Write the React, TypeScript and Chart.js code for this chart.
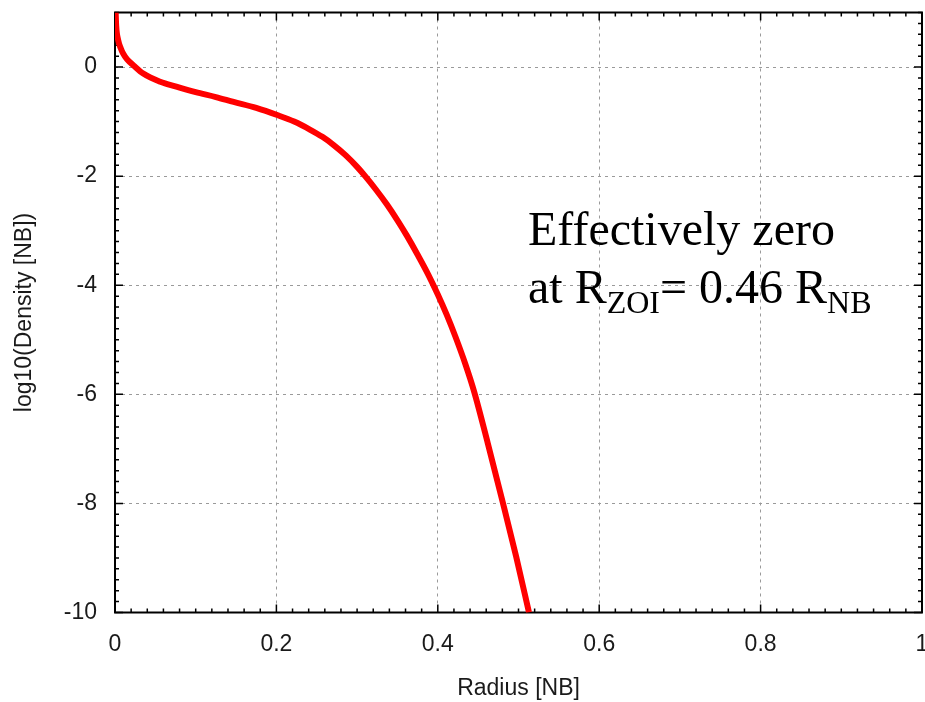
import React, { useEffect, useRef } from "react";
import { Chart, registerables } from "chart.js";

Chart.register(...registerables);

// Radius [NB]
const radius: number[] = [
  0.0008, 0.0015, 0.004, 0.007, 0.010, 0.015, 0.023, 0.035, 0.056, 0.076,
  0.1, 0.125, 0.147, 0.175, 0.201, 0.222, 0.242, 0.257, 0.271, 0.286,
  0.3, 0.31, 0.323, 0.337, 0.35, 0.362, 0.375, 0.388, 0.4, 0.411,
  0.422, 0.434, 0.445, 0.462, 0.48, 0.497, 0.513,
];
// log10(Density [NB])
const logDensity: number[] = [
  1.0, 0.75, 0.49, 0.35, 0.25, 0.14, 0.03, -0.12, -0.27, -0.36,
  -0.46, -0.55, -0.64, -0.75, -0.88, -1.0, -1.15, -1.28, -1.43, -1.62,
  -1.83, -2.0, -2.24, -2.52, -2.81, -3.1, -3.44, -3.8, -4.17, -4.54,
  -4.95, -5.44, -5.95, -6.9, -7.95, -8.97, -10.0,
];

const xTicks: number[] = [0, 0.2, 0.4, 0.6, 0.8, 1];
const yTicks: number[] = [-10, -8, -6, -4, -2, 0];
const xMinorStep = 0.02;
const yMinorStep = 0.2;

const xTitle = "Radius [NB]";
const yTitle = "log10(Density [NB])";
const noteLine1 = "Effectively zero";
const noteLine2: { text: string; sub: boolean }[] = [
  { text: "at R", sub: false },
  { text: "ZOI", sub: true },
  { text: "= 0.46 R", sub: false },
  { text: "NB", sub: true },
];

const SANS = "'Liberation Sans', Arial, sans-serif";
const SERIF = "'Liberation Serif', 'Times New Roman', serif";

const framePlugin = {
  id: "frame",
  beforeDatasetsDraw(chart: any) {
    const { ctx, chartArea: a, scales } = chart;
    const xs = scales.x;
    const ys = scales.y;
    ctx.save();
    ctx.strokeStyle = "#000";
    ctx.lineWidth = 1.5;
    const nX = Math.round((xs.max - xs.min) / xMinorStep);
    for (let i = 0; i <= nX; i++) {
      const v = xs.min + i * xMinorStep;
      const major = xTicks.some((t) => Math.abs(t - v) < 1e-9);
      const len = major ? 8 : 4;
      const px = xs.getPixelForValue(v);
      ctx.beginPath();
      ctx.moveTo(px, a.bottom);
      ctx.lineTo(px, a.bottom - len);
      ctx.moveTo(px, a.top);
      ctx.lineTo(px, a.top + len);
      ctx.stroke();
    }
    const nY = Math.round((ys.max - ys.min) / yMinorStep);
    for (let i = 0; i <= nY; i++) {
      const v = ys.min + i * yMinorStep;
      const major = yTicks.some((t) => Math.abs(t - v) < 1e-9);
      const len = major ? 8 : 4;
      const py = ys.getPixelForValue(v);
      ctx.beginPath();
      ctx.moveTo(a.left, py);
      ctx.lineTo(a.left + len, py);
      ctx.moveTo(a.right, py);
      ctx.lineTo(a.right - len, py);
      ctx.stroke();
    }
    ctx.lineWidth = 2;
    ctx.strokeRect(a.left, a.top, a.right - a.left, a.bottom - a.top);
    ctx.restore();
  },
  afterDraw(chart: any) {
    const { ctx, chartArea: a } = chart;
    ctx.save();
    ctx.fillStyle = "#000";
    ctx.textBaseline = "alphabetic";
    ctx.textAlign = "left";
    const x0 = a.left + 413;
    const base1 = a.top + 232.5;
    const base2 = a.top + 290.5;
    ctx.font = `48px ${SERIF}`;
    ctx.fillText(noteLine1, x0, base1);
    let x = x0;
    for (const seg of noteLine2) {
      if (seg.sub) {
        ctx.font = `32px ${SERIF}`;
        ctx.fillText(seg.text, x, base2 + 10);
      } else {
        ctx.font = `48px ${SERIF}`;
        ctx.fillText(seg.text, x, base2);
      }
      x += ctx.measureText(seg.text).width;
    }
    ctx.restore();
  },
};

const zeroPad = (s: any) => {
  s.paddingTop = 0;
  s.paddingBottom = 0;
  s.paddingLeft = 0;
  s.paddingRight = 0;
};

export default function App() {
  const ref = useRef<HTMLCanvasElement | null>(null);

  useEffect(() => {
    document.body.style.margin = "0";
    const canvas = ref.current;
    if (!canvas) return;
    const points = radius.map((r, i) => ({ x: r, y: logDensity[i] }));
    const chart = new Chart(canvas, {
      type: "scatter",
      data: {
        datasets: [
          {
            data: points,
            showLine: true,
            borderColor: "#ff0000",
            backgroundColor: "#ff0000",
            borderWidth: 6,
            pointRadius: 0,
            cubicInterpolationMode: "monotone",
          },
        ],
      },
      options: {
        responsive: false,
        animation: false,
        maintainAspectRatio: false,
        layout: { padding: { top: 12.5, right: 3, left: 0, bottom: 0 } },
        plugins: {
          legend: { display: false },
          tooltip: { enabled: false },
        },
        scales: {
          x: {
            type: "linear",
            min: 0,
            max: 1,
            afterBuildTicks: (s: any) => {
              s.ticks = xTicks.map((v) => ({ value: v }));
            },
            afterFit: (s: any) => {
              s.height = 89.5;
              zeroPad(s);
            },
            grid: {
              color: "#9a9a9a",
              lineWidth: 1,
              drawTicks: false,
            },
            border: { display: false, dash: [3, 4] },
            ticks: {
              padding: 18,
              color: "#1a1a1a",
              font: { family: SANS, size: 23 },
              maxRotation: 0,
              callback: (v: any) => String(v),
            },
            title: {
              display: true,
              text: xTitle,
              color: "#1a1a1a",
              font: { family: SANS, size: 23 },
              padding: { top: 0, bottom: 0 },
            },
          },
          y: {
            type: "linear",
            min: -10,
            max: 1,
            afterBuildTicks: (s: any) => {
              s.ticks = yTicks.map((v) => ({ value: v }));
            },
            afterFit: (s: any) => {
              s.width = 115;
              zeroPad(s);
            },
            grid: {
              color: "#9a9a9a",
              lineWidth: 1,
              drawTicks: false,
            },
            border: { display: false, dash: [3, 4] },
            ticks: {
              padding: 18,
              color: "#1a1a1a",
              font: { family: SANS, size: 23 },
              callback: (v: any) => String(v),
            },
            title: {
              display: true,
              text: yTitle,
              color: "#1a1a1a",
              font: { family: SANS, size: 23 },
              padding: { top: 11, bottom: 0 },
            },
          },
        },
      },
      plugins: [framePlugin],
    } as any);
    return () => chart.destroy();
  }, []);

  return (
    <div style={{ position: "absolute", left: 0, top: 0, width: 925, height: 702, background: "#fff" }}>
      <canvas ref={ref} width={925} height={702} style={{ display: "block" }} />
    </div>
  );
}
